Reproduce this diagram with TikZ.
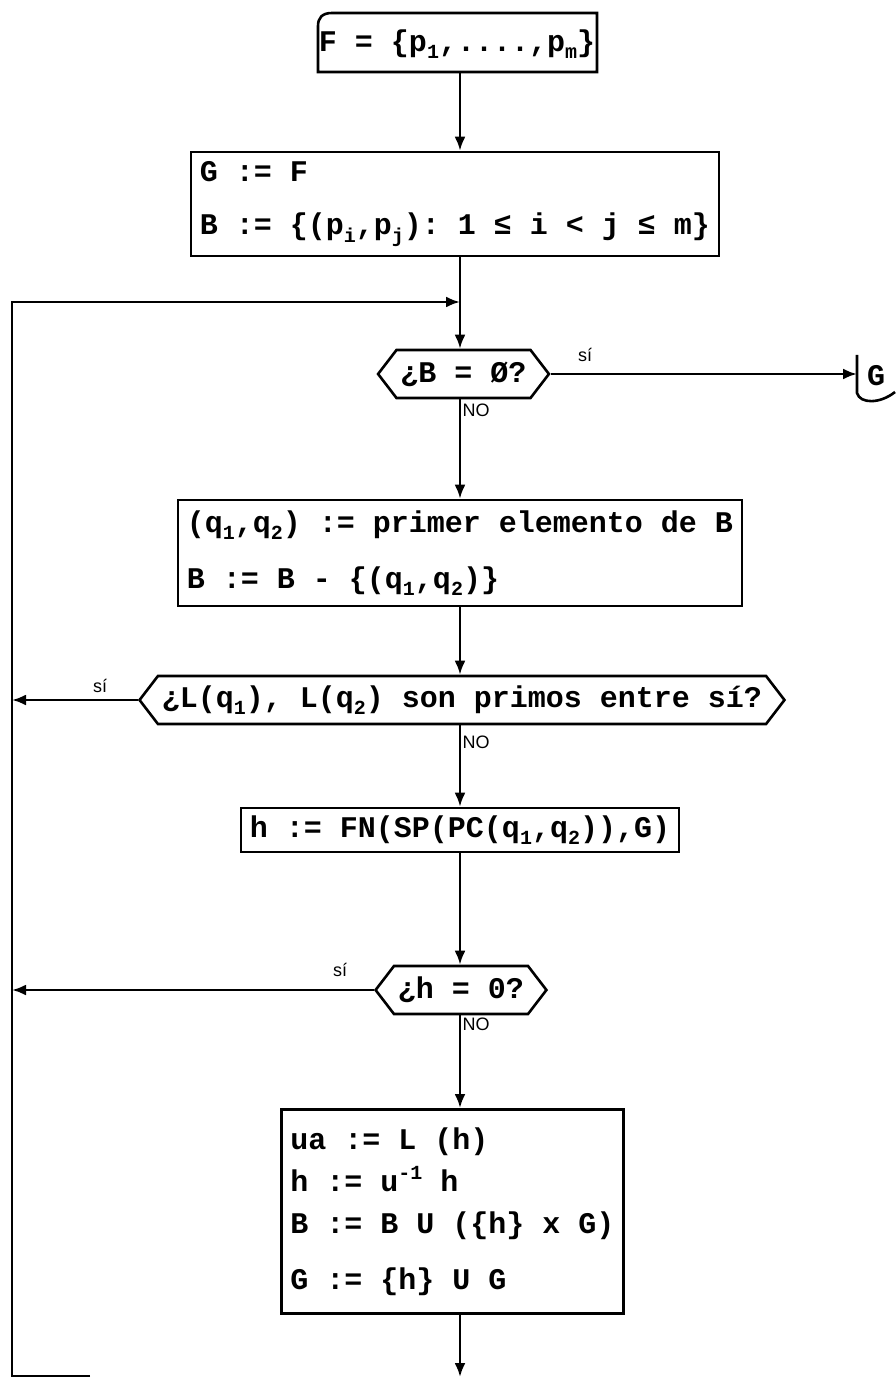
\documentclass[tikz,border=0pt]{standalone}
\usepackage{fontspec}
\setmonofont{Liberation Mono}
\newfontfamily\hand{Liberation Sans}
\usetikzlibrary{shapes.symbols,arrows.meta}
\newcommand{\sbs}[1]{\raisebox{-0.45ex}{\fontsize{10}{10}\selectfont #1}}
\newcommand{\sps}[1]{\raisebox{0.7ex}{\fontsize{10}{10}\selectfont #1}}
\begin{document}
\begin{tikzpicture}[x=0.5pt,y=-0.5pt,
  every node/.style={font=\ttfamily\bfseries\fontsize{15}{18}\selectfont, inner sep=0pt},
  line/.style={line width=1.3pt},
  arr/.style={line width=1.3pt,-{Latex[length=7pt,width=5.5pt]}},
  procbox/.style={draw,line width=1.3pt,rectangle,align=left,inner xsep=4.5pt},
  decision/.style={draw,line width=1.3pt,signal,signal to=west and east,signal pointer angle=105,inner xsep=2pt,minimum height=24pt},
  lab/.style={font=\hand\fontsize{9}{9}\selectfont}
]
\useasboundingbox (0,0) rectangle (895,1379);

% top input box
\node (F) at (457,44) {F = \{p\sbs{1},....,p\sbs{m}\}};
\coordinate (Ftop) at (460,72);
\draw[line] (597,13) -- (597,72) -- (318,72) -- (318,26) .. controls (318,18) and (322,13) .. (332,13) -- cycle;

% G box
\node[procbox,minimum height=52pt] (Gbox) at (455,204)
  {G := F\\[8.5pt]B := \{(p\sbs{i},p\sbs{j}): 1 ≤ i < j ≤ m\}};

% decision B empty
\node[decision,minimum width=84.5pt] (dB) at (463.5,374) {¿B = Ø?};
\node[lab] (siB) at (585,355) {sí};
\node[lab] (noB) at (476,410) {NO};
\node (Gout) at (876,376) {G};
\draw[line] (857,355) -- (857,393) .. controls (860,404) and (880,404) .. (895,392);

% q box
\node[procbox,minimum height=53pt] (qbox) at (460,553)
  {(q\sbs{1},q\sbs{2}) := primer elemento de B\\[10pt]B := B - \{(q\sbs{1},q\sbs{2})\}};

% decision L
\node[decision] (dL) at (462,700) {¿L(q\sbs{1}), L(q\sbs{2}) son primos entre sí?};
\node[lab] (siL) at (100,686) {sí};
\node[lab] (noL) at (476,742) {NO};

% h box
\node[procbox,minimum height=22pt] (hbox) at (460,830) {h := FN(SP(PC(q\sbs{1},q\sbs{2})),G)};

% decision h=0
\node[decision,minimum width=79pt] (dh) at (461,990) {¿h = 0?};
\node[lab] (sih) at (340,970) {sí};
\node[lab] (noh) at (476,1024) {NO};

% last box
\node[procbox,anchor=north west,minimum height=102pt,minimum width=170pt] (lbox) at (280,1108)
  {ua := L (h)\\[3pt]h := u\sps{-1} h\\[3pt]B := B U (\{h\} x G)\\[10pt]G := \{h\} U G};

% loop line
\coordinate (join) at (460,302);
\coordinate (cTop) at (12,302);
\coordinate (cL) at (12,700);
\coordinate (ch) at (12,990);
\coordinate (cBot) at (12,1376);
\coordinate (cBotR) at (90,1376);
\coordinate (end) at (460,1377);

% connectors
\draw[arr] (Ftop) -- (Gbox.north -| Ftop);
\draw[arr] (Gbox.south -| Ftop) -- (dB.north -| Ftop);
\draw[arr] (cBotR) -- (cBot) -- (cTop) -- (join);
\draw[arr] (dB.east) -- (857,374);
\draw[arr] (dB.south -| Ftop) -- (qbox.north -| Ftop);
\draw[arr] (qbox.south -| Ftop) -- (dL.north -| Ftop);
\draw[arr] (dL.west) -- (cL);
\draw[arr] (dL.south -| Ftop) -- (hbox.north -| Ftop);
\draw[arr] (hbox.south -| Ftop) -- (dh.north -| Ftop);
\draw[arr] (dh.west) -- (ch);
\draw[arr] (dh.south -| Ftop) -- (lbox.north -| Ftop);
\draw[arr] (lbox.south -| Ftop) -- (end);
\end{tikzpicture}
\end{document}
